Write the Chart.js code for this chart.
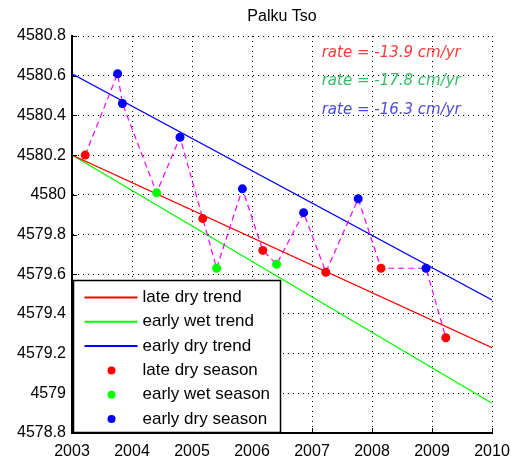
<!DOCTYPE html>
<html>
<head>
<meta charset="utf-8">
<script src="https://cdn.jsdelivr.net/npm/chart.js@4.4.0/dist/chart.umd.min.js"></script>
<style>
  html, body { margin: 0; padding: 0; background: #fff; }
</style>
</head>
<body>
<canvas id="chart" width="511" height="461"></canvas>
<script>
// lake level per season (decimal year, metres)
const lateDryYears = [2003.22, 2005.18, 2006.18, 2007.23, 2008.15, 2009.23];
const lateDryLevels = [4580.20, 4579.88, 4579.72, 4579.61, 4579.63, 4579.28];
const earlyWetYears = [2004.41, 2005.41, 2006.41];
const earlyWetLevels = [4580.01, 4579.63, 4579.65];
const earlyDryYears = [2003.76, 2003.84, 2004.80, 2005.84, 2006.86, 2007.77, 2008.90];
const earlyDryLevels = [4580.61, 4580.46, 4580.29, 4580.03, 4579.91, 4579.98, 4579.63];

// fitted trends, read at both ends of the axis
const trendYears = [2003, 2010];
const lateDryTrend = [4580.20, 4579.23];
const earlyWetTrend = [4580.20, 4578.95];
const earlyDryTrend = [4580.61, 4579.47];

const rateLabels = ['rate = -13.9 cm/yr', 'rate = -17.8 cm/yr', 'rate = -16.3 cm/yr'];
const xTicks = [2003, 2004, 2005, 2006, 2007, 2008, 2009, 2010];
const yTicks = [4578.8, 4579, 4579.2, 4579.4, 4579.6, 4579.8, 4580, 4580.2, 4580.4, 4580.6, 4580.8];

const pts = (xs, ys) => xs.map((x, i) => ({ x, y: ys[i] }));

// all measurements joined in time order (the magenta dashed line)
const timeline = [
    ...pts(lateDryYears, lateDryLevels),
    ...pts(earlyWetYears, earlyWetLevels),
    ...pts(earlyDryYears, earlyDryLevels)
].sort((a, b) => a.x - b.x);

const trend = (label, data, color) => ({
    label, data, showLine: true, borderColor: color, backgroundColor: color,
    borderWidth: 1.2, pointRadius: 0, order: 3, isLine: true
});
const season = (label, data, color) => ({
    label, data, showLine: false, borderColor: color, backgroundColor: color,
    borderWidth: 0, pointRadius: 4.5, pointStyle: 'circle', order: 0
});

const datasets = [
    trend('late dry trend', pts(trendYears, lateDryTrend), '#ff0000'),
    trend('early wet trend', pts(trendYears, earlyWetTrend), '#00ff00'),
    trend('early dry trend', pts(trendYears, earlyDryTrend), '#0000ff'),
    season('late dry season', pts(lateDryYears, lateDryLevels), '#ff0000'),
    season('early wet season', pts(earlyWetYears, earlyWetLevels), '#00ff00'),
    season('early dry season', pts(earlyDryYears, earlyDryLevels), '#0000ff'),
    {
        label: '', data: timeline, showLine: true, borderColor: '#ff00ff',
        borderWidth: 1.2, borderDash: [6, 4], pointRadius: 0, order: 1, noLegend: true
    }
];

const rateColors = ['#ff3838', '#2fbf62', '#4a4ae0'];
const rateLevels = [4580.713, 4580.573, 4580.426];

const extras = {
    id: 'extras',
    afterDraw(chart) {
        const { ctx, chartArea: ca, scales: { x, y } } = chart;
        ctx.save();

        // title
        ctx.fillStyle = '#000';
        ctx.font = '16px "Liberation Sans", Arial, sans-serif';
        ctx.textAlign = 'center';
        ctx.textBaseline = 'alphabetic';
        ctx.fillText('Palku Tso', (ca.left + ca.right) / 2, 21);

        // tick marks point inwards
        ctx.strokeStyle = '#000';
        ctx.lineWidth = 1;
        ctx.beginPath();
        y.ticks.forEach(t => {
            const py = Math.round(y.getPixelForValue(t.value)) + 0.5;
            ctx.moveTo(ca.left, py);
            ctx.lineTo(ca.left + 5, py);
        });
        x.ticks.forEach(t => {
            const px = Math.round(x.getPixelForValue(t.value)) + 0.5;
            ctx.moveTo(px, ca.bottom);
            ctx.lineTo(px, ca.bottom - 5);
        });
        ctx.stroke();

        // rate annotations
        ctx.font = 'italic 15px "DejaVu Sans", sans-serif';
        ctx.textAlign = 'center';
        ctx.textBaseline = 'middle';
        rateLabels.forEach((txt, i) => {
            ctx.fillStyle = rateColors[i];
            ctx.fillText(txt, x.getPixelForValue(2008.32), y.getPixelForValue(rateLevels[i]));
        });

        // legend box, lower left
        const bx = ca.left + 1.5, bw = 207, bh = 152;
        const by = ca.bottom - bh - 0.5;
        ctx.fillStyle = '#fff';
        ctx.fillRect(bx, by, bw, bh);
        ctx.strokeStyle = '#000';
        ctx.lineWidth = 1.5;
        ctx.strokeRect(bx, by, bw, bh);

        ctx.font = '17px "Liberation Sans", Arial, sans-serif';
        ctx.textAlign = 'left';
        ctx.textBaseline = 'middle';
        const items = chart.data.datasets.filter(d => !d.noLegend);
        items.forEach((d, i) => {
            const ry = by + 17 + i * 24.3;
            if (d.isLine) {
                ctx.strokeStyle = d.borderColor;
                ctx.lineWidth = 2;
                ctx.beginPath();
                ctx.moveTo(bx + 11, ry);
                ctx.lineTo(bx + 64, ry);
                ctx.stroke();
            } else {
                ctx.fillStyle = d.backgroundColor;
                ctx.beginPath();
                ctx.arc(bx + 38, ry, 4, 0, Math.PI * 2);
                ctx.fill();
            }
            ctx.fillStyle = '#000';
            ctx.fillText(d.label, bx + 69, ry);
        });

        ctx.restore();
    }
};

new Chart(document.getElementById('chart'), {
    type: 'scatter',
    data: { datasets },
    options: {
        responsive: false,
        animation: false,
        devicePixelRatio: 1,
        layout: { padding: { top: 36, right: 19, left: 0, bottom: 0 } },
        plugins: { legend: { display: false }, tooltip: { enabled: false }, title: { display: false } },
        scales: {
            x: {
                type: 'linear',
                min: xTicks[0],
                max: xTicks[xTicks.length - 1],
                afterBuildTicks: s => { s.ticks = xTicks.map(v => ({ value: v })); },
                afterFit: s => { s.height = 28; s.paddingLeft = 0; s.paddingRight = 0; },
                grid: { color: '#000', lineWidth: 1, drawTicks: false },
                border: { color: '#000', width: 2, dash: [1, 4] },
                ticks: {
                    color: '#000', padding: 9,
                    font: { family: '"Liberation Sans", Arial, sans-serif', size: 16 },
                    callback: v => String(v), maxRotation: 0
                }
            },
            y: {
                type: 'linear',
                min: yTicks[0],
                max: yTicks[yTicks.length - 1],
                afterBuildTicks: s => { s.ticks = yTicks.map(v => ({ value: v })); },
                afterFit: s => { s.width = 72; s.paddingTop = 0; s.paddingBottom = 0; },
                grid: { color: '#000', lineWidth: 1, drawTicks: false },
                border: { color: '#000', width: 2, dash: [1, 4] },
                ticks: {
                    color: '#000', padding: 6,
                    font: { family: '"Liberation Sans", Arial, sans-serif', size: 16 },
                    callback: v => String(v)
                }
            }
        }
    },
    plugins: [extras]
});
</script>
</body>
</html>
